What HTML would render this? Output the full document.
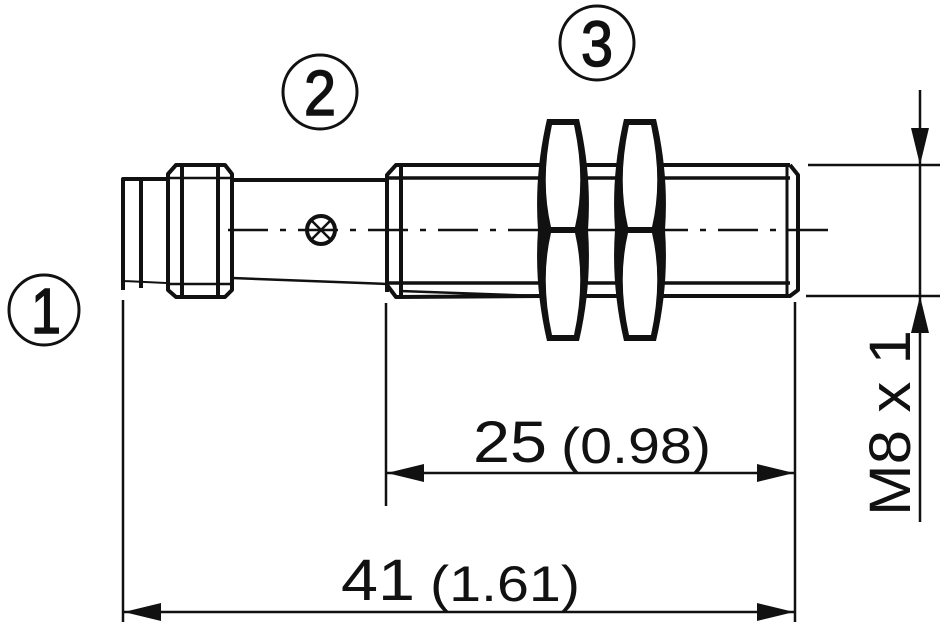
<!DOCTYPE html>
<html><head><meta charset="utf-8"><style>
html,body{margin:0;padding:0;background:#fff;width:940px;height:624px;overflow:hidden}
text{font-family:"Liberation Sans",sans-serif;fill:#111}
</style></head><body>
<svg width="940" height="624" viewBox="0 0 940 624" xmlns="http://www.w3.org/2000/svg">
<g fill="none" stroke="#111" stroke-width="4" stroke-linejoin="round">
<!-- cap -->
<path d="M123,290 L123,179 L166,179"/>
<line x1="141" y1="180" x2="141" y2="288"/>
<line x1="123" y1="281" x2="166" y2="283" stroke-width="2"/>
<!-- nut 1 (small) -->
<path d="M168,290 L168,174 L176,165 L225,165 L232,174 L232,290 L225,297 L176,297 Z"/>
<line x1="182" y1="166" x2="182" y2="296"/>
<line x1="218" y1="166" x2="218" y2="296"/>
<line x1="168" y1="178" x2="232" y2="178" stroke-width="2.5"/>
<line x1="168" y1="284" x2="232" y2="284" stroke-width="2.5"/>
<!-- tube -->
<line x1="232" y1="180" x2="388" y2="180"/>
<line x1="232" y1="278" x2="388" y2="284" stroke-width="2.5"/>
<circle cx="321" cy="230" r="14" stroke-width="4"/>
<line x1="312" y1="221" x2="330" y2="239" stroke-width="2.5"/>
<line x1="312" y1="239" x2="330" y2="221" stroke-width="2.5"/>
<!-- section 2 -->
<path d="M387,292 L387,175 L396,165 L790,165"/>
<line x1="401" y1="166" x2="401" y2="296"/>
<line x1="387" y1="178" x2="790" y2="178" stroke-width="3.5"/>
<line x1="387" y1="283" x2="790" y2="283" stroke-width="3.5"/>
<path d="M387,285 L396,297 L540,296"/>
<line x1="400" y1="291" x2="540" y2="296" stroke-width="2.5"/>
<path d="M540,296 L790,296 L798,290 L798,175 L790,165"/>
<line x1="787" y1="166" x2="787" y2="296" stroke-width="3"/>
<!-- centerline -->
<path d="M228,230 L838,230" stroke-width="2.5" stroke-dasharray="40,12,6,12"/>
<!-- dimension lines -->
<line x1="808" y1="165" x2="940" y2="165" stroke-width="2.5"/>
<line x1="806" y1="296" x2="940" y2="296" stroke-width="2.5"/>
<line x1="920" y1="90" x2="920" y2="522" stroke-width="2.5"/>
<line x1="123" y1="300" x2="123" y2="622" stroke-width="2.5"/>
<line x1="386" y1="303" x2="386" y2="506" stroke-width="2.5"/>
<line x1="795" y1="302" x2="795" y2="622" stroke-width="2.5"/>
<line x1="386" y1="473" x2="795" y2="473" stroke-width="2.5"/>
<line x1="123" y1="612" x2="795" y2="612" stroke-width="2.5"/>
<!-- circles -->
<circle cx="44" cy="310" r="35" stroke-width="3"/>
<circle cx="320" cy="92" r="37" stroke-width="3"/>
<circle cx="597" cy="43" r="37" stroke-width="3"/>
</g>
<!-- hex nuts -->
<g fill="#111">
<path d="M547,119 L579,119 Q592,175 588,230 Q592,285 579,341 L547,341 Q534,285 538,230 Q534,175 547,119 Z"/>
<path d="M624,119 L656,119 Q669,175 665,230 Q669,285 656,341 L624,341 Q611,285 615,230 Q611,175 624,119 Z"/>
</g>
<g fill="#fff">
<path d="M552,125 L574,125 Q586,180 575,227 L551,227 Q540,180 552,125 Z"/>
<path d="M551,233 L575,233 Q586,280 574,335 L552,335 Q540,280 551,233 Z"/>
<path d="M629,125 L651,125 Q663,180 652,227 L628,227 Q617,180 629,125 Z"/>
<path d="M628,233 L652,233 Q663,280 651,335 L629,335 Q617,280 628,233 Z"/>
</g>
<!-- arrowheads -->
<g fill="#111">
<polygon points="920,165 911,128 929,128"/>
<polygon points="920,296 911,333 929,333"/>
<polygon points="387,473 424,464 424,482"/>
<polygon points="794,473 757,464 757,482"/>
<polygon points="124,612 161,603 161,621"/>
<polygon points="794,612 757,603 757,621"/>
</g>
<g stroke="#111" stroke-width="1.5">
<text x="46" y="333" font-size="64" text-anchor="middle" textLength="30" lengthAdjust="spacingAndGlyphs">1</text>
<text x="320" y="115" font-size="64" text-anchor="middle" textLength="32" lengthAdjust="spacingAndGlyphs">2</text>
<text x="597" y="66" font-size="64" text-anchor="middle" textLength="32" lengthAdjust="spacingAndGlyphs">3</text>
</g>
<text x="473" y="462" font-size="58" textLength="74" lengthAdjust="spacingAndGlyphs">25</text>
<text x="561" y="463" font-size="50" textLength="150" lengthAdjust="spacingAndGlyphs">(0.98)</text>
<text x="341" y="600" font-size="58" textLength="74" lengthAdjust="spacingAndGlyphs">41</text>
<text x="430" y="601" font-size="50" textLength="150" lengthAdjust="spacingAndGlyphs">(1.61)</text>
<text transform="translate(910,516) rotate(-90)" font-size="58" textLength="186" lengthAdjust="spacingAndGlyphs">M8 x 1</text>
</svg>
</body></html>
